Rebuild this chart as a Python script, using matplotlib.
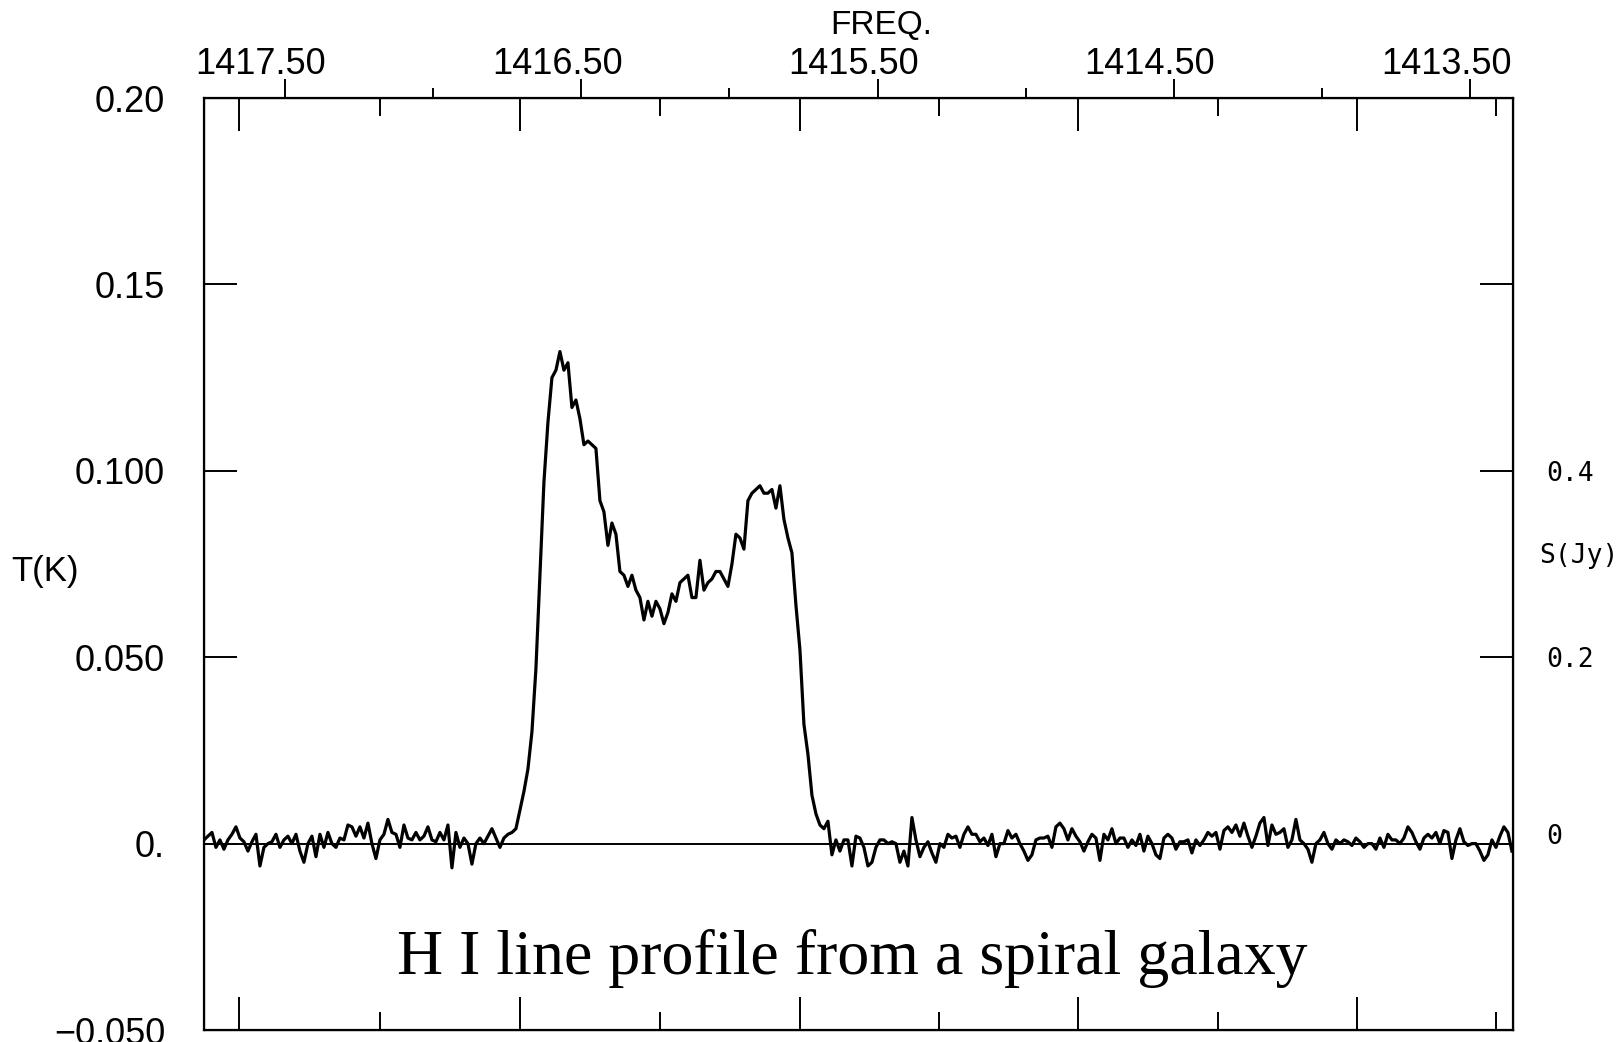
import numpy as np
import matplotlib
matplotlib.use("Agg")
import matplotlib.pyplot as plt
from matplotlib.transforms import ScaledTranslation

# channel grid of the spectrum (MHz)
chan_freq0 = 1417.7734
chan_width = -0.0135

# antenna temperature per channel in mK
t_mk = [
    1, 2, 3, -1, 1, -1.5, 1, 2.5, 4.5, 1.5,
    0.5, -2, 0.5, 2.5, -6, -1, 0, 0.5, 2.5, -1,
    1, 2, 0, 2.5, -2, -5, 0, 2, -3.5, 2.5,
    -1, 3, 0, -1, 1.5, 1, 5, 4.5, 2, 4.5,
    1.5, 5.5, 0, -4, 1, 2.5, 6.5, 3, 2.5, -1,
    5, 1.5, 1, 3, 1, 2, 4.5, 1, 0.5, 3,
    1, 5, -6.5, 3, -1, 1.5, 0, -5.5, 0, 1.5,
    0, 2, 4, 1.5, -1, 1.5, 2.5, 3,
    4, 9, 14, 20, 30, 47, 72, 97, 113, 125, 127, 132,
    127, 129, 117, 119, 114, 107, 108, 107, 106, 92,
    89, 80, 86, 83, 73, 72, 69, 72, 68, 66,
    60, 65, 61, 65, 63, 59, 62, 67, 65, 70,
    71, 72, 66, 66, 76, 68, 70, 71, 73, 73,
    71, 69, 75, 83, 82, 79, 92, 94, 95, 96,
    94, 94, 95, 90, 96, 87, 82, 78, 64, 52,
    32, 24, 13, 8, 5, 4, 6, -3,
    1, -2, 1, 1, -6, 2, 1.5, -1, -6, -5, -1, 1,
    1, 0, 0.5, 0, -5, -2, -6, 7, 1, -3.5,
    -1, 0.5, -2.5, -5, 0, -1, 2.5, 1.5, 2, -1,
    2.5, 4.5, 2.5, 2.5, 0.5, 1.5, -0.5, 2.5, -3.5, 0,
    0, 3.5, 1.5, 2.5, 0, -2, -4.5, -3, 1, 1.5,
    1.5, 2, -1, 4.5, 5.5, 4, 1, 4, 2, 0.5,
    -2, 0.5, 2.5, 1.5, -4.5, 2.5, 1, 4, 0, 1.5,
    1.5, -1, 1, -0.5, 2.5, -2, 2, 0, -3, -4,
    1.5, 2.5, 1.5, -1.5, 0.5, 0.5, 1, -2.5, 1, -0.5,
    1, 3, 2, 3, -1.5, 3.5, 4.5, 3, 5, 2,
    5.5, 2, -1, 2, 5.5, 7, -0.5, 5, 2.5, 3,
    4, -1, 1, 6.5, 1, 0, -1.5, -5, 0, 1,
    3, 0, -1.5, 1, 0, 1, 0.5, -0.5, 1.5, 0.5,
    -1, 0, 0, -1.5, 1.5, -1, 2.5, 1, 1, 0,
    1.5, 4.5, 3, 0.5, -1.5, 1.5, 2.5, 1.5, 3, 0,
    3.5, 3, -4, 1, 4, 0.5, -0.5, 0, 0, -2,
    -4.5, -3, 1, -1, 2, 4.5, 3, -2,
]

freq_ticks = [1417.5, 1416.5, 1415.5, 1414.5, 1413.5]
freq_labels = ["1417.50", "1416.50", "1415.50", "1414.50", "1413.50"]
freq_minor = [1417.0, 1416.0, 1415.0, 1414.0]

t_ticks = [-0.05, 0.0, 0.05, 0.10, 0.15, 0.20]
t_labels = ["\u22120.050", "0.", "0.050", "0.100", "0.15", "0.20"]

s_ticks = [0.0, 0.2, 0.4, 0.6]
s_labels = ["0", "0.2", "0.4", ""]

# unlabelled velocity scale ticks, given at their frequencies
vel_major = [1417.654, 1416.705, 1415.762, 1414.824, 1413.882]
vel_minor = [1417.179, 1416.234, 1415.293, 1414.351, 1413.413]

plt.rcParams["font.family"] = "Liberation Sans"

fig = plt.figure(figsize=(16.16, 10.42), dpi=100)
ax = fig.add_axes([0.1262, 0.0115, 0.8100, 0.8944])
axv = ax.twiny()
axs = ax.twinx()

freq = chan_freq0 + chan_width * np.arange(len(t_mk))
temp = np.array(t_mk) / 1000.0

ax.plot(freq, temp, color="k", lw=2.3)
ax.axhline(0, color="k", lw=1.4)
ax.set_xlim(1417.7734, 1413.3556)
ax.set_ylim(-0.05, 0.20)
for sp in ax.spines.values():
    sp.set_linewidth(1.6)

# frequency scale on top, ticks outward
ax.xaxis.tick_top()
ax.set_xticks(freq_ticks, freq_labels)
ax.set_xticks(freq_minor, minor=True)
ax.tick_params(axis="x", which="major", direction="out", length=14, width=1.4,
               labelsize=26, pad=-2.5, top=True, bottom=False,
               labeltop=True, labelbottom=False)
ax.tick_params(axis="x", which="minor", direction="out", length=7, width=1.4,
               top=True, bottom=False)
ax.set_yticks(t_ticks, t_labels)
ax.tick_params(axis="y", direction="in", length=24, width=1.4, labelsize=26, pad=28)

# velocity ticks, inside top and bottom
axv.set_xlim(ax.get_xlim())
axv.set_xticks(vel_major)
axv.set_xticks(vel_minor, minor=True)
axv.tick_params(axis="x", which="major", direction="in", length=24, width=1.4,
                top=True, bottom=True, labeltop=False, labelbottom=False)
axv.tick_params(axis="x", which="minor", direction="in", length=13, width=1.4,
                top=True, bottom=True, labeltop=False, labelbottom=False)

# flux density scale on the right
axs.set_ylim(-0.2, 0.8)
axs.set_yticks(s_ticks, s_labels)
axs.tick_params(axis="y", direction="in", length=24, width=1.4, labelsize=19, pad=24,
                labelfontfamily="DejaVu Sans Mono")

off = ScaledTranslation(-24 / 100, 0, fig.dpi_scale_trans)
for t in ax.xaxis.get_major_ticks():
    t.label2.set_transform(t.label2.get_transform() + off)
up = ScaledTranslation(0, 10 / 100, fig.dpi_scale_trans)
zero_tick = axs.yaxis.get_major_ticks()[0]
zero_tick.label2.set_transform(zero_tick.label2.get_transform() + up)

fig.text(881 / 1616, 1 - 26 / 1042, "FREQ.", ha="center", va="center", fontsize=24)
fig.text(45 / 1616, 1 - 572 / 1042, "T(K)", ha="center", va="center", fontsize=25)
fig.text(1539 / 1616, 1 - 556 / 1042, "S(Jy)", ha="left", va="center", fontsize=19,
         family="DejaVu Sans Mono")
fig.text(852 / 1616, 1 - 974 / 1042, "H I line profile from a spiral galaxy",
         ha="center", va="baseline", fontsize=46, family="Liberation Serif")

fig.savefig("out.png", dpi=100)
